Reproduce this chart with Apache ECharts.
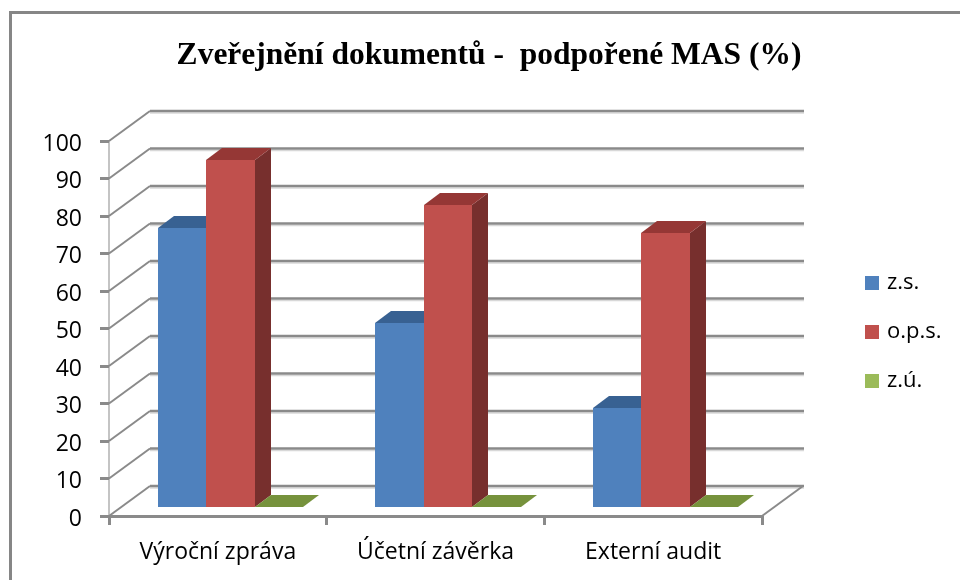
<!DOCTYPE html>
<html><head><meta charset="utf-8">
<script src="https://cdn.jsdelivr.net/npm/echarts@6/dist/echarts.min.js"></script>
<style>html,body{margin:0;padding:0;background:#fff}#c{width:960px;height:580px}</style>
</head><body><div id="c"></div>
<script>
const titleText = 'Zveřejnění dokumentů -  podpořené MAS (%)';
const categories = ['Výroční zpráva', 'Účetní závěrka', 'Externí audit'];
const zsValues = [74.5, 49, 26.5];
const opsValues = [92.5, 80.5, 73];
const zuValues = [0, 0, 0];
const yTicks = [0, 10, 20, 30, 40, 50, 60, 70, 80, 90, 100];
const seriesNames = ['z.s.', 'o.p.s.', 'z.ú.'];

const WALL_DX = 41, WALL_DY = 30;          // wall depth
const FLOOR_DX = 12.5, FLOOR_DY = 9;       // bar front plane inset
const BAR_DX = 16, BAR_DY = 12, BAR_W = 48.5;
const LINE = '#8a8a8a';

function wallItem(params, api) {
  const cs = params.coordSys;
  const y = api.coord([0, api.value(1)])[1];
  const x0 = cs.x, x1 = cs.x + cs.width;
  const children = [
    { type: 'line', shape: { x1: x0, y1: y, x2: x0 + WALL_DX, y2: y - WALL_DY }, style: { stroke: LINE, lineWidth: 2 } },
    { type: 'line', shape: { x1: x0 + WALL_DX, y1: y - WALL_DY + 2, x2: x1 + WALL_DX + 1, y2: y - WALL_DY + 2 }, style: { stroke: '#d8d8d8', lineWidth: 1.5 } },
    { type: 'line', shape: { x1: x0 + WALL_DX, y1: y - WALL_DY, x2: x1 + WALL_DX + 1, y2: y - WALL_DY }, style: { stroke: LINE, lineWidth: 2.5 } }
  ];
  if (api.value(1) === 0) {
    children.push({ type: 'line', shape: { x1: x1, y1: y, x2: x1 + WALL_DX, y2: y - WALL_DY }, style: { stroke: LINE, lineWidth: 2 } });
  }
  return { type: 'group', children };
}

function barRenderer(slot, front, top, side) {
  return function (params, api) {
    const c = api.coord([api.value(0), api.value(1)]);
    const b = api.coord([api.value(0), 0]);
    const xL = Math.round(c[0] + FLOOR_DX + (slot - 1.5) * BAR_W);
    const xR = Math.round(c[0] + FLOOR_DX + (slot - 0.5) * BAR_W);
    const yT = Math.round(c[1] - FLOOR_DY), yB = Math.round(b[1] - FLOOR_DY);
    const children = [];
    if (yB - yT > 0.01) {
      children.push({ type: 'polygon', shape: { points: [[xR, yT], [xR + BAR_DX, yT - BAR_DY], [xR + BAR_DX, yB - BAR_DY], [xR, yB]] }, style: { fill: side } });
      children.push({ type: 'rect', shape: { x: xL, y: yT, width: xR - xL, height: yB - yT }, style: { fill: front } });
    }
    children.push({ type: 'polygon', shape: { points: [[xL, yT], [xL + BAR_DX, yT - BAR_DY], [xR + BAR_DX, yT - BAR_DY], [xR, yT]] }, style: { fill: top } });
    return { type: 'group', children };
  };
}

function barSeries(name, values, slot, legendColor, top, side) {
  return {
    type: 'custom', name, coordinateSystem: 'cartesian2d', clip: false, z: 3 + slot,
    encode: { x: 0, y: 1 },
    itemStyle: { color: legendColor },
    data: values.map((v, i) => [i, v]),
    renderItem: barRenderer(slot, legendColor, top, side)
  };
}

const chart = echarts.init(document.getElementById('c'), null, { renderer: 'canvas' });
chart.setOption({
  animation: false,
  backgroundColor: '#ffffff',
  title: {
    text: titleText, left: 484, top: 35, textAlign: 'center',
    textStyle: { fontFamily: 'Liberation Serif', fontWeight: 'bold', fontSize: 31.5, color: '#000' }
  },
  graphic: [{
    type: 'polyline', silent: true,
    shape: { points: [[10.5, 580], [10.5, 12.5], [960, 12.5]] },
    style: { stroke: '#868686', lineWidth: 3, fill: null }
  }],
  legend: {
    data: seriesNames, orient: 'vertical', left: 860, top: 266, icon: 'rect',
    itemWidth: 14, itemHeight: 14, itemGap: 25,
    textStyle: { fontFamily: 'Open Sans', fontSize: 22, color: '#000', lineHeight: 24, padding: [0, 0, 0, 3] }
  },
  grid: { left: 109, right: 198, top: 141, height: 375 },
  xAxis: {
    type: 'category', data: categories,
    axisLine: { lineStyle: { color: LINE, width: 3 } },
    axisTick: { show: true, length: 9, lineStyle: { color: LINE, width: 3 } },
    axisLabel: { margin: 25, fontFamily: 'Open Sans', fontSize: 23, color: '#000', interval: 0 }
  },
  yAxis: {
    type: 'value', min: 0, max: 100, interval: 10,
    splitLine: { show: false },
    axisLine: { show: true, lineStyle: { color: '#c4c4c4', width: 2 } },
    axisTick: { show: true, length: 9, lineStyle: { color: LINE, width: 3 } },
    axisLabel: { margin: 27, fontFamily: 'Open Sans', fontSize: 23, color: '#000', verticalAlign: 'top', lineHeight: 6 }
  },
  series: [
    { type: 'custom', name: 'wall', coordinateSystem: 'cartesian2d', clip: false, z: 1, silent: true,
      encode: { y: 1 }, data: yTicks.map(v => [0, v]), renderItem: wallItem },
    barSeries(seriesNames[0], zsValues, 0, '#4f81bd', '#386192', '#2f5480'),
    barSeries(seriesNames[1], opsValues, 1, '#c0504d', '#953735', '#772f2d'),
    barSeries(seriesNames[2], zuValues, 2, '#9bbb59', '#76923c', '#5f752f')
  ]
});
</script></body></html>
